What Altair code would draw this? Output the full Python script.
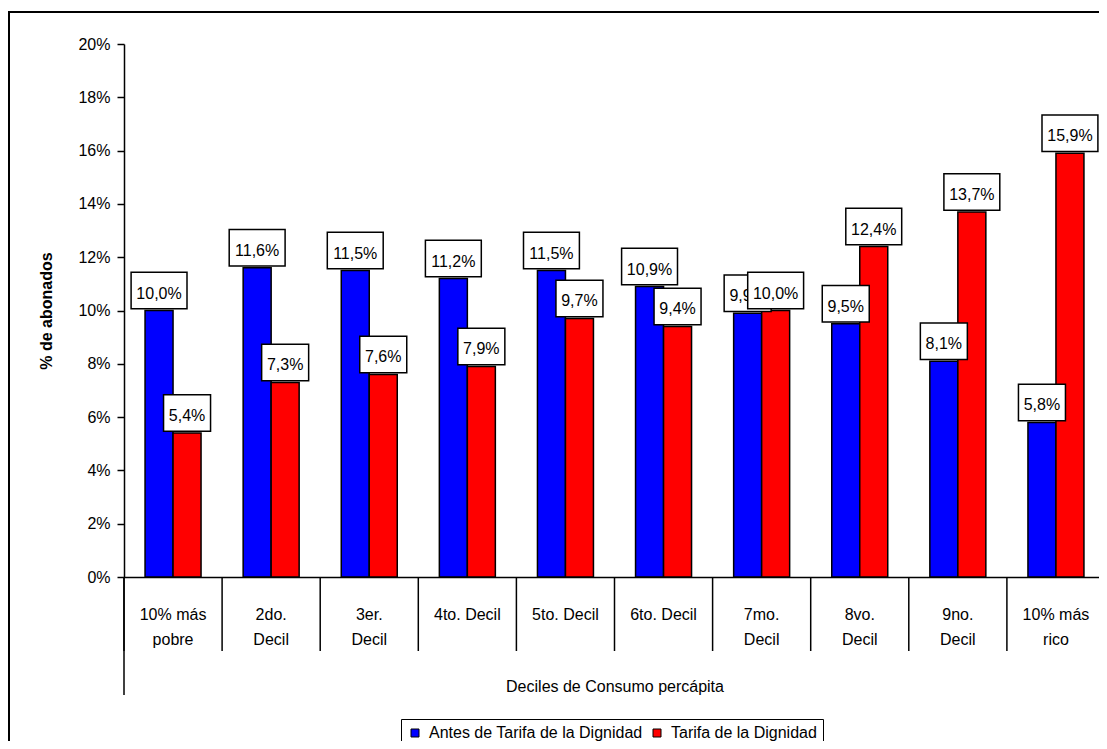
import altair as alt
import pandas as pd

FONT = "Liberation Sans"

categories = ["10% más\npobre", "2do.\nDecil", "3er.\nDecil", "4to. Decil", "5to. Decil",
              "6to. Decil", "7mo.\nDecil", "8vo.\nDecil", "9no.\nDecil", "10% más\nrico"]
series = ["Antes de Tarifa de la Dignidad", "Tarifa de la Dignidad"]
antes = [10.0, 11.6, 11.5, 11.2, 11.5, 10.9, 9.9, 9.5, 8.1, 5.8]
tarifa = [5.4, 7.3, 7.6, 7.9, 9.7, 9.4, 10.0, 12.4, 13.7, 15.9]
y_ticks = [0, 0.02, 0.04, 0.06, 0.08, 0.10, 0.12, 0.14, 0.16, 0.18, 0.20]
colors = ["#0000FF", "#FF0000"]

W, H = 981, 533
BOX_H = 36.5

rows = []
for s, vals in zip(series, [antes, tarifa]):
    for c, v in zip(categories, vals):
        label = f"{v:.1f}".replace(".", ",") + "%"
        digits = sum(ch.isdigit() for ch in label)
        w = round(8.9 * digits + 4.45 + 14.2 + 10.5, 1)
        r = round(BOX_H / w, 4)
        rows.append({
            "cat": c, "serie": s, "value": v / 100, "label": label,
            "shp": f"M-1,-{r}L1,-{r}L1,{r}L-1,{r}Z", "sz": w * w,
        })
df = pd.DataFrame(rows)

x_axis = alt.Axis(
    title="Deciles de Consumo percápita", labelAngle=0,
    labelExpr="split(datum.label, '\\n')", ticks=False,
    domainColor="black", domainWidth=1.5,
    labelFont=FONT, labelFontSize=16, labelColor="black", labelPadding=29,
    labelLineHeight=25, labelBaseline="top", labelLimit=300,
    titleFont=FONT, titleFontSize=16, titleFontWeight="normal", titleColor="black",
    titleY=109, titleBaseline="middle",
)
x_enc = alt.X("cat:N", sort=categories,
              scale=alt.Scale(domain=categories, paddingInner=0, paddingOuter=0),
              axis=x_axis)
y_enc = alt.Y("value:Q", scale=alt.Scale(domain=[0, 0.2], nice=False),
              axis=alt.Axis(title="% de abonados", values=y_ticks, format=".0%",
                            grid=False, domainColor="black", domainWidth=1.5,
                            tickColor="black", tickWidth=1.5, tickSize=7,
                            labelFont=FONT, labelFontSize=16, labelColor="black",
                            labelPadding=7, titleFont=FONT, titleFontSize=16,
                            titleFontWeight="bold", titleColor="black",
                            titleX=-78, titleY=H / 2, titleBaseline="middle",
                            titleAngle=270))
color_enc = alt.Color("serie:N", scale=alt.Scale(domain=series, range=colors),
                      legend=alt.Legend(orient="none", legendX=277, legendY=675,
                                        direction="horizontal", title=None,
                                        strokeColor="black", fillColor="white",
                                        padding=6, symbolType="square", symbolSize=64,
                                        symbolStrokeColor="black", symbolStrokeWidth=1,
                                        symbolOpacity=1,
                                        labelFont=FONT, labelFontSize=16,
                                        labelColor="black", labelLimit=500,
                                        columnPadding=6, labelOffset=6))

base = alt.Chart(df)
offs = {series[0]: -14, series[1]: 14}

layers = []
for s in series:
    d = base.transform_filter(alt.datum.serie == s)
    layers.append(d.mark_bar(width=28, xOffset=offs[s], stroke="black", strokeWidth=1.5,
                             opacity=1).encode(x=x_enc, y=y_enc, color=color_enc))
for s in series:
    d = base.transform_filter(alt.datum.serie == s)
    layers.append(d.mark_point(filled=True, fill="white", stroke="black", strokeWidth=1.5,
                               opacity=1, xOffset=offs[s], yOffset=-20).encode(
        x=x_enc, y=y_enc,
        shape=alt.Shape("shp:N", scale=None, legend=None),
        size=alt.Size("sz:Q", scale=None, legend=None)))
    layers.append(d.mark_text(font=FONT, fontSize=16, color="black", xOffset=offs[s],
                              yOffset=-12, baseline="alphabetic", align="center").encode(
        x=x_enc, y=y_enc, text="label:N"))

first = base.transform_filter(alt.datum.serie == series[0])
layers.append(first.mark_rule(color="black", strokeWidth=1.5).encode(
    x=alt.X("cat:N", sort=categories, bandPosition=0,
            scale=alt.Scale(domain=categories, paddingInner=0, paddingOuter=0),
            axis=x_axis),
    y=alt.value(H), y2=alt.value(H + 74)))

one = alt.Chart(pd.DataFrame({"k": [0]}))
layers.append(one.mark_rule(color="black", strokeWidth=1.5).encode(
    x=alt.value(0), y=alt.value(H), y2=alt.value(H + 118)))
layers.append(one.mark_rule(color="black", strokeWidth=1.5).encode(
    x=alt.value(W), y=alt.value(0), y2=alt.value(H + 118)))
layers.append(one.mark_rect(fillOpacity=0, stroke="black", strokeWidth=2).encode(
    x=alt.value(-115), x2=alt.value(W + 50), y=alt.value(-32), y2=alt.value(H + 300)))

chart = alt.layer(*layers).properties(
    width=W, height=H,
    autosize=alt.AutoSizeParams(type="none"),
    padding={"left": 116, "top": 36, "right": -6, "bottom": 164},
    background="white",
).configure_view(stroke=None)

chart.save("out.html", embed_options={"renderer": "svg", "actions": False})
